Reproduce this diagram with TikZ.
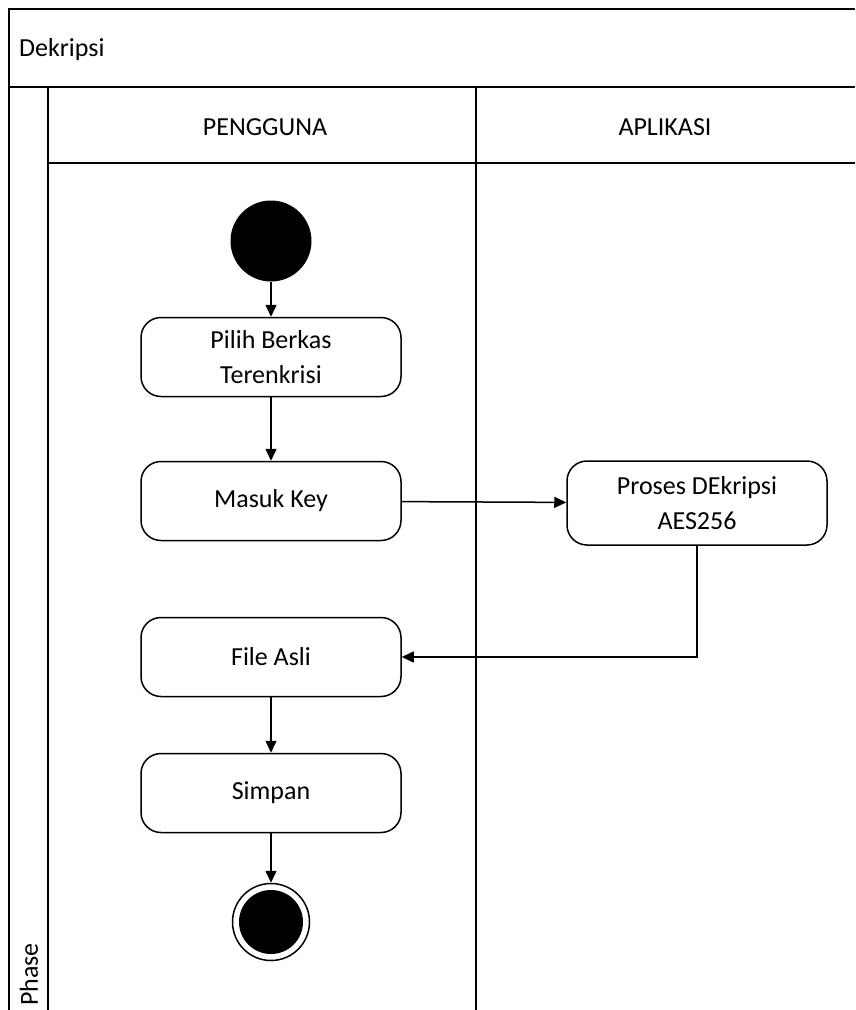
\documentclass[tikz,border=0pt]{standalone}
\usepackage{fontspec}
\setmainfont{Carlito}
\usetikzlibrary{arrows.meta}

\begin{document}
\begin{tikzpicture}[x=1pt,y=-1pt,line width=1.5pt,font=\fontsize{26}{35}\selectfont,
act/.style={draw,rounded corners=20pt,minimum width=260pt,minimum height=79pt,align=center,inner sep=0pt},
flow/.style={-{Triangle[length=12pt,width=11pt]}}]
\useasboundingbox (0,0) rectangle (855,1010);
% swimlane frame
\draw (9,1010) -- (9,9) -- (855,9);
\draw (9,87) -- (855,87);
\draw (48,1010) -- (48,87);
\draw (48,163) -- (855,163);
\draw (476,87) -- (476,1010);
\node[anchor=west] (judul) at (15,50) {Dekripsi};
\node (pengguna) at (265,127) {PENGGUNA};
\node (aplikasi) at (665,127) {APLIKASI};
\node[rotate=90,anchor=west] (phase) at (29,1010) {Phase};

\node[circle,fill,minimum size=81pt,inner sep=0pt] (start) at (271,241) {};
\node[act,text depth=-6pt] (pilih) at (271,357) {Pilih Berkas\\Terenkrisi};
\node[act] (masuk) at (271,501) {Masuk Key};
\node[act,minimum height=84pt,text depth=-6pt] (proses) at (697,503) {Proses DEkripsi\\AES256};
\node[act] (file) at (271,657) {File Asli};
\node[act] (simpan) at (271,793) {Simpan};
\node[circle,draw,minimum size=77pt,inner sep=0pt] (end) at (271,922) {};
\fill (end.center) circle (32pt);

\draw[flow] (start) -- (pilih);
\draw[flow] (pilih) -- (masuk);
\draw[flow] (masuk) -- (proses);
\draw[flow] (proses) |- (file);
\draw[flow] (file) -- (simpan);
\draw[flow] (simpan) -- (end);

\end{tikzpicture}
\end{document}
